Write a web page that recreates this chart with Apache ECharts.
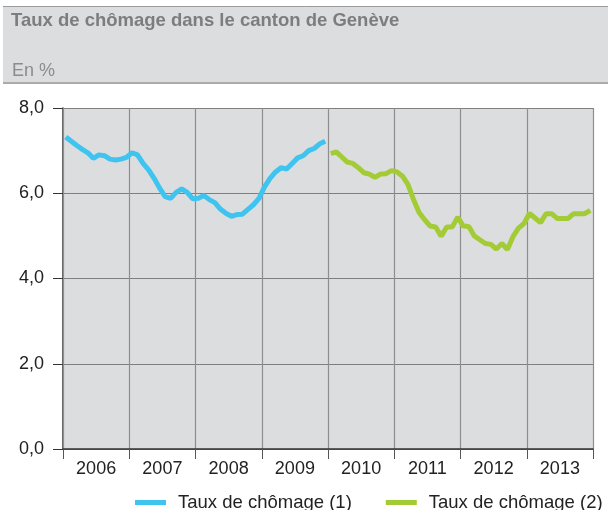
<!DOCTYPE html>
<html>
<head>
<meta charset="utf-8">
<script src="https://cdn.jsdelivr.net/npm/echarts@6/dist/echarts.min.js"></script>
<style>
html,body{margin:0;padding:0;background:#fff;}
#chart{width:608px;height:510px;}
</style>
</head>
<body>
<div id="chart"></div>
<script>
var title = 'Taux de chômage dans le canton de Genève';
var subtitle = 'En %';
var years = ['2006','2007','2008','2009','2010','2011','2012','2013'];
var yTicks = [0, 2, 4, 6, 8];
var seriesNames = ['Taux de chômage (1)', 'Taux de chômage (2)'];
// monthly values, Jan 2006 - Dec 2009
var rate1 = [
  7.32, 7.22, 7.12, 7.03, 6.95, 6.82, 6.90, 6.88, 6.80, 6.78, 6.80, 6.84,
  6.95, 6.90, 6.70, 6.55, 6.35, 6.12, 5.92, 5.88, 6.02, 6.10, 6.02, 5.87,
  5.88, 5.95, 5.85, 5.78, 5.63, 5.53, 5.46, 5.50, 5.51, 5.62, 5.73, 5.88,
  6.15, 6.35, 6.50, 6.60, 6.57, 6.70, 6.83, 6.88, 7.00, 7.05, 7.16, 7.22
];
// monthly values, Jan 2010 - Dec 2013
var rate2 = [
  6.93, 6.97, 6.85, 6.73, 6.70, 6.60, 6.48, 6.45, 6.37, 6.45, 6.46, 6.53,
  6.50, 6.40, 6.20, 5.85, 5.55, 5.38, 5.23, 5.21, 4.99, 5.21, 5.21, 5.44,
  5.23, 5.22, 5.00, 4.91, 4.82, 4.80, 4.69, 4.82, 4.68, 4.98, 5.18, 5.29,
  5.53, 5.42, 5.31, 5.52, 5.52, 5.41, 5.41, 5.41, 5.52, 5.52, 5.52, 5.60
];

var d1 = rate1.map(function(v, i){ return [i + 0.5, v]; });
var d2 = rate2.map(function(v, i){ return [48 + i + 0.5, v]; });

var FONT = '"Liberation Sans", Arial, Helvetica, sans-serif';
var chart = echarts.init(document.getElementById('chart'), null, {renderer: 'canvas'});
chart.setOption({
  backgroundColor: '#ffffff',
  animation: false,
  textStyle: {fontFamily: FONT},
  graphic: [
    {type: 'rect', shape: {x: 3, y: 6, width: 605, height: 77}, style: {fill: '#DCDDDF'}, z: 0},
    {type: 'line', shape: {x1: 3, y1: 6.5, x2: 608, y2: 6.5}, style: {stroke: '#9a9a9a', lineWidth: 1}},
    {type: 'line', shape: {x1: 3, y1: 83, x2: 608, y2: 83}, style: {stroke: '#ababab', lineWidth: 2}},
    {type: 'text', x: 11, y: 21, style: {text: title, fill: '#7d7d7d', font: 'bold 18.5px ' + FONT, textVerticalAlign: 'middle'}},
    {type: 'text', x: 12, y: 71, style: {text: subtitle, fill: '#8c8c8c', font: '18px ' + FONT, textVerticalAlign: 'middle'}}
  ],
  grid: {left: 63, right: 15, top: 108, bottom: 61, show: true, backgroundColor: '#DCDDDF', borderWidth: 0},
  legend: {
    data: seriesNames,
    left: 135, top: 493, padding: 0,
    itemWidth: 31, itemHeight: 5, itemGap: 34,
    icon: 'rect',
    textStyle: {fontSize: 18.5, color: '#222', fontFamily: FONT, padding: [0, 0, 0, 7]}
  },
  xAxis: [
    {
      type: 'category', data: years, boundaryGap: true, gridIndex: 0,
      axisLine: {show: true, lineStyle: {color: '#333', width: 1.5}},
      axisTick: {show: true, length: 10, interval: 0, lineStyle: {color: '#555', width: 1}},
      axisLabel: {fontSize: 18, color: '#222', margin: 11, fontFamily: FONT, interval: 0},
      splitLine: {show: true, interval: 0, lineStyle: {color: '#8e8e8e', width: 1.2}},
      z: 3
    },
    {type: 'value', min: 0, max: 96, show: false, gridIndex: 0}
  ],
  yAxis: {
    type: 'value', min: yTicks[0], max: yTicks[yTicks.length - 1], interval: 2,
    axisLine: {show: true, lineStyle: {color: '#333', width: 1.5}},
    axisTick: {show: true, length: 10, lineStyle: {color: '#333', width: 1}},
    axisLabel: {fontSize: 18, color: '#222', margin: 19, fontFamily: FONT,
      formatter: function(v){ return v.toFixed(1).replace('.', ','); }},
    splitLine: {show: true, lineStyle: {color: '#7f7f7f', width: 1.2}}
  },
  series: [
    {name: seriesNames[0], type: 'line', xAxisIndex: 1, data: d1, showSymbol: false, symbol: 'none',
      lineStyle: {color: '#3EC4EF', width: 5}, itemStyle: {color: '#3EC4EF'}, z: 5},
    {name: seriesNames[1], type: 'line', xAxisIndex: 1, data: d2, showSymbol: false, symbol: 'none',
      lineStyle: {color: '#A3CB36', width: 5}, itemStyle: {color: '#A3CB36'}, z: 5}
  ]
});
</script>
</body>
</html>
